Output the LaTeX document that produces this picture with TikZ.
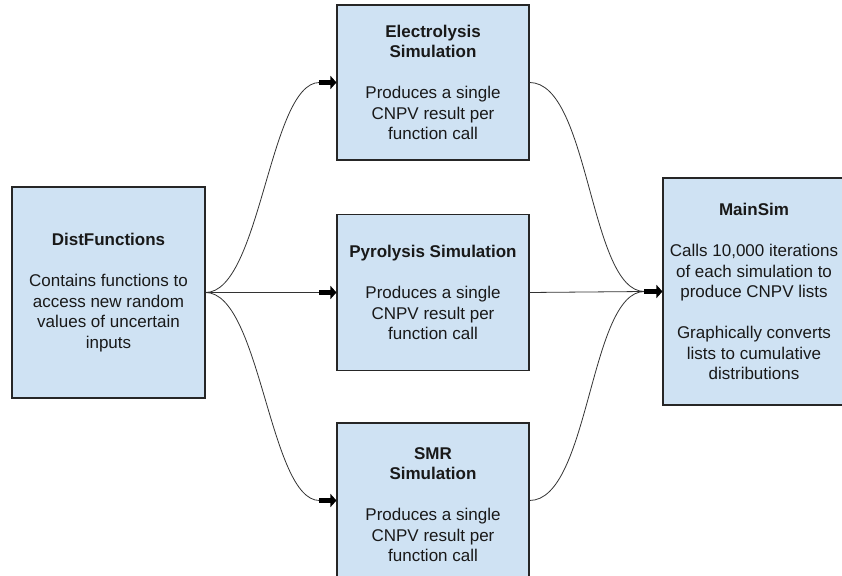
\documentclass[tikz,border=0pt]{standalone}
\usepackage{fontspec}
\setmainfont{Liberation Sans}
\usetikzlibrary{arrows.meta}
\definecolor{boxfill}{HTML}{CFE2F3}
\begin{document}
\begin{tikzpicture}[x=1pt,y=1pt,
  box/.style={draw=black!85, line width=1.1pt, fill=boxfill, align=center,
    font=\fontsize{17}{20.5}\selectfont, inner sep=0pt, text=black!90},
  conn/.style={draw=black!80, line width=0.8pt},
  fatarrow/.style={line width=5.5pt, -{Triangle[length=6pt,width=13pt]}}]
\useasboundingbox (0,0) rectangle (842,575);
\fill[white] (0,0) rectangle (842,575);

\node[box, minimum width=193pt, minimum height=211pt] (dist) at (108.5,282.5)
  {\textbf{DistFunctions}\\[20.5pt]Contains functions to\\access new random\\values of uncertain\\inputs};
\node[box, minimum width=192pt, minimum height=155pt] (elec) at (433,492.5)
  {\textbf{Electrolysis}\\\textbf{Simulation}\\[20.5pt]Produces a single\\CNPV result per\\function call};
\node[box, minimum width=192pt, minimum height=156pt] (pyro) at (433,282.5)
  {\textbf{Pyrolysis Simulation}\\[20.5pt]Produces a single\\CNPV result per\\function call};
\node[box, minimum width=192pt, minimum height=163pt] (smr) at (433,70.5)
  {\textbf{SMR}\\\textbf{Simulation}\\[20.5pt]Produces a single\\CNPV result per\\function call};
\node[box, minimum width=182pt, minimum height=227pt] (main) at (754,283.5)
  {\textbf{MainSim}\\[20.5pt]Calls 10,000 iterations\\of each simulation to\\produce CNPV lists\\[20.5pt]Graphically converts\\lists to cumulative\\distributions};

\coordinate (ein) at ([xshift=-17pt]elec.west);
\coordinate (pin) at ([xshift=-17pt]pyro.west);
\coordinate (sw) at ([yshift=4pt]smr.west);
\coordinate (se) at ([yshift=4pt]smr.east);
\coordinate (sin) at ([xshift=-17pt]sw);
\coordinate (merge) at ([xshift=-18pt]main.west);

\draw[conn] (dist.east) .. controls +(55,0) and +(-50,0) .. (ein);
\draw[conn] (dist.east) -- (pin);
\draw[conn] (dist.east) .. controls +(55,0) and +(-50,0) .. (sin);
\draw[fatarrow] (ein) -- (elec.west);
\draw[fatarrow] (pin) -- (pyro.west);
\draw[fatarrow] (sin) -- (sw);

\draw[conn] (elec.east) .. controls +(60,0) and +(-55,0) .. (merge);
\draw[conn] (pyro.east) -- (merge);
\draw[conn] (se) .. controls +(60,0) and +(-55,0) .. (merge);
\draw[fatarrow] (merge) -- (main.west);
\end{tikzpicture}
\end{document}
